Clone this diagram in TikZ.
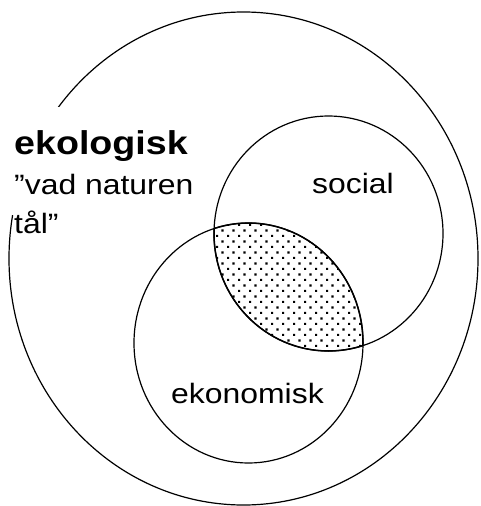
\documentclass[tikz,border=0pt]{standalone}
\usepackage{fontspec}
\usepackage{graphicx}
\setmainfont{Liberation Sans}
\usetikzlibrary{patterns.meta}
\tikzdeclarepattern{
  name=lensdots, type=uncolored,
  bounding box={(0pt,0pt) and (11.4pt,11.4pt)},
  tile size={(11.4pt,11.4pt)},
  code={
    \fill (0pt,0pt) rectangle (2.3pt,2.3pt);
    \fill (5.7pt,5.7pt) rectangle (8pt,8pt);
  }
}
\tikzset{
  ring/.style={draw=black, line width=1.2pt},
  lbl/.style={anchor=base west, inner sep=0pt, font=\fontsize{28}{34}\selectfont},
  boldlbl/.style={anchor=base west, inner sep=0pt, font=\bfseries\fontsize{33}{40}\selectfont}
}
\newcommand{\wide}[1]{\scalebox{1.14}[1]{#1}}
\begin{document}
\begin{tikzpicture}[x=1pt,y=-1pt]
\useasboundingbox (0,0) rectangle (481,506);
% outer circle (ecological)
\draw[ring] (243.5,258.5) ellipse [x radius=234.5, y radius=246.5];
% white area behind the label
\fill[white] (0,107) rectangle (196,215);
% dotted lens
\begin{scope}
  \clip (328.5,233.5) ellipse [x radius=114.5, y radius=117.5];
  \fill[pattern=lensdots, pattern color=black] (248.5,343) ellipse [x radius=114.5, y radius=120];
  \draw[line width=1.5pt] (248.5,343) ellipse [x radius=114.5, y radius=120];
\end{scope}
\begin{scope}
  \clip (248.5,343) ellipse [x radius=114.5, y radius=120];
  \draw[line width=1.5pt] (328.5,233.5) ellipse [x radius=114.5, y radius=117.5];
\end{scope}
% social and economic circles
\draw[ring] (328.5,233.5) ellipse [x radius=114.5, y radius=117.5];
\draw[ring] (248.5,343) ellipse [x radius=114.5, y radius=120];
% labels
\node[boldlbl] (eko) at (14,154) {\wide{ekologisk}};
\node[lbl] (vad) at (14,194) {\wide{”vad naturen}};
\node[lbl] (tal) at (14,233) {\wide{tål”}};
\node[lbl] (soc) at (312,193) {\wide{social}};
\node[lbl] (ekon) at (171,403) {\wide{ekonomisk}};
\end{tikzpicture}
\end{document}
